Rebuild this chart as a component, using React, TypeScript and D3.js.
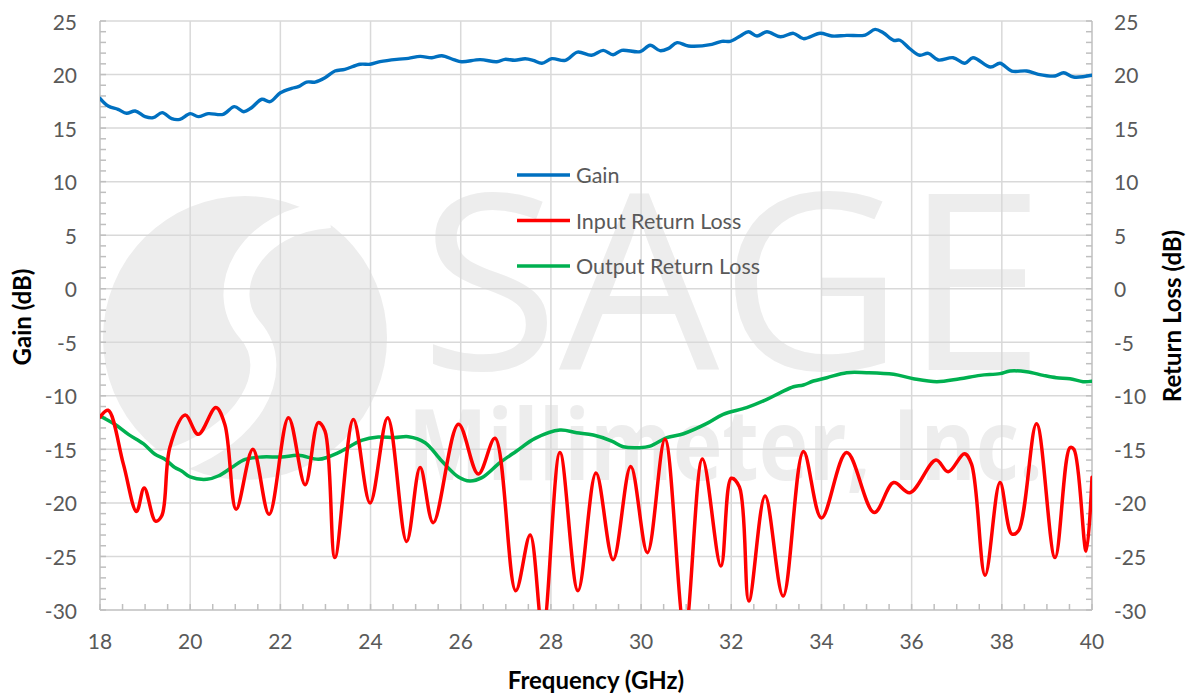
import React from "react";
import * as d3 from "d3";

const freqTicks = [18, 20, 22, 24, 26, 28, 30, 32, 34, 36, 38, 40];
const dbTicks = [25, 20, 15, 10, 5, 0, -5, -10, -15, -20, -25, -30];

const gainF = [18.0, 18.18, 18.4, 18.59, 18.78, 19.0, 19.18, 19.38, 19.59, 19.77, 20.0, 20.18, 20.4, 20.73, 20.98, 21.19, 21.36, 21.59, 21.77, 22.0, 22.25, 22.4, 22.58, 22.77, 22.99, 23.21, 23.43, 23.77, 23.99, 24.21, 24.58, 24.84, 25.1, 25.36, 25.58, 25.84, 26.02, 26.43, 26.8, 26.98, 27.2, 27.43, 27.61, 27.8, 28.02, 28.32, 28.59, 28.9, 29.16, 29.38, 29.57, 29.98, 30.2, 30.42, 30.6, 30.8, 31.05, 31.57, 31.79, 31.97, 32.2, 32.38, 32.57, 32.79, 33.09, 33.38, 33.6, 33.97, 34.23, 34.56, 34.97, 35.19, 35.37, 35.6, 35.74, 35.96, 36.18, 36.37, 36.59, 36.92, 37.18, 37.36, 37.75, 37.96, 38.22, 38.55, 38.81, 39.18, 39.37, 39.59, 40.0];
const gainV = [17.78, 17.06, 16.75, 16.38, 16.6, 16.07, 15.97, 16.44, 15.88, 15.82, 16.35, 16.07, 16.35, 16.28, 17.0, 16.53, 16.9, 17.69, 17.47, 18.3, 18.71, 18.87, 19.3, 19.3, 19.7, 20.33, 20.49, 20.96, 20.96, 21.2, 21.42, 21.51, 21.7, 21.57, 21.76, 21.4, 21.2, 21.39, 21.2, 21.42, 21.33, 21.48, 21.33, 21.05, 21.48, 21.33, 22.1, 21.8, 22.26, 21.85, 22.26, 22.14, 22.73, 22.23, 22.42, 22.98, 22.67, 22.82, 23.1, 23.1, 23.6, 24.0, 23.6, 24.0, 23.53, 23.85, 23.35, 23.85, 23.6, 23.66, 23.69, 24.22, 23.9, 23.2, 23.2, 22.41, 21.8, 21.98, 21.36, 21.57, 21.05, 21.57, 20.7, 21.05, 20.33, 20.33, 20.02, 19.86, 20.17, 19.77, 19.93];

const inputF = [18.0, 18.18, 18.52, 18.81, 18.98, 19.23, 19.37, 19.55, 19.89, 20.18, 20.57, 20.77, 21.02, 21.39, 21.75, 22.18, 22.55, 22.84, 22.99, 23.21, 23.62, 23.99, 24.38, 24.8, 25.1, 25.39, 25.95, 26.39, 26.76, 27.22, 27.54, 27.82, 28.2, 28.6, 29.0, 29.38, 29.77, 30.14, 30.53, 30.97, 31.36, 31.77, 32.0, 32.18, 32.39, 32.75, 33.15, 33.6, 34.0, 34.56, 35.17, 35.6, 35.96, 36.54, 36.81, 37.17, 37.33, 37.63, 37.96, 38.22, 38.37, 38.77, 39.18, 39.51, 39.6, 39.87, 40.0];
const inputV = [-12.0, -11.35, -16.4, -20.8, -18.6, -21.7, -21.2, -14.8, -11.8, -13.6, -11.1, -12.7, -20.6, -15.0, -21.07, -12.04, -18.3, -12.5, -13.3, -25.1, -12.2, -20.0, -12.04, -23.6, -16.7, -21.85, -12.66, -17.3, -13.97, -28.2, -23.0, -32.0, -15.3, -28.2, -17.2, -25.3, -16.6, -24.65, -14.06, -32.0, -15.9, -25.9, -17.7, -18.5, -29.16, -19.36, -28.7, -15.2, -21.4, -15.3, -20.9, -18.1, -19.05, -16.0, -17.1, -15.4, -16.4, -26.76, -18.1, -22.9, -22.6, -12.6, -25.1, -14.84, -15.0, -24.5, -17.6];

const outputF = [18.0, 18.33, 18.63, 18.96, 19.22, 19.44, 19.66, 19.81, 20.0, 20.37, 20.62, 20.92, 21.22, 21.59, 22.03, 22.4, 22.84, 23.06, 23.36, 23.8, 24.17, 24.54, 24.84, 25.21, 25.58, 25.95, 26.2, 26.47, 26.87, 27.24, 27.65, 28.2, 28.57, 28.94, 29.35, 29.6, 29.97, 30.2, 30.57, 30.94, 31.45, 31.82, 32.34, 32.79, 33.09, 33.38, 33.6, 33.82, 34.12, 34.56, 35.0, 35.6, 36.04, 36.56, 37.07, 37.52, 37.96, 38.18, 38.55, 38.92, 39.21, 39.51, 39.8, 40.0];
const outputV = [-11.88, -12.66, -13.6, -14.47, -15.46, -15.93, -16.7, -17.02, -17.58, -17.8, -17.49, -16.7, -15.93, -15.71, -15.71, -15.56, -15.93, -15.71, -15.15, -14.16, -13.85, -13.9, -13.82, -14.38, -16.09, -17.58, -17.95, -17.64, -16.24, -15.15, -13.97, -13.19, -13.44, -13.66, -14.22, -14.75, -14.84, -14.69, -13.91, -13.54, -12.6, -11.73, -11.1, -10.33, -9.7, -9.15, -8.99, -8.62, -8.31, -7.84, -7.84, -7.99, -8.4, -8.68, -8.4, -8.09, -7.93, -7.68, -7.75, -8.09, -8.31, -8.4, -8.68, -8.64];

const seriesNames = ["Gain", "Input Return Loss", "Output Return Loss"];
const seriesColors = ["#0070c0", "#ff0000", "#00b050"];

const W = 1187;
const H = 694;
const L = 100;
const R = 1092;
const T = 21;
const B = 610;
const FONT = "Lato, 'Open Sans', sans-serif";

export default function App() {
  const x = d3.scaleLinear().domain([18, 40]).range([L, R]);
  const y = d3.scaleLinear().domain([-30, 25]).range([B, T]);
  const line = d3
    .line<[number, number]>()
    .x((d) => x(d[0]))
    .y((d) => y(d[1]))
    .curve(d3.curveCatmullRom.alpha(0.5));

  const gain = gainF.map((f, i) => [f, gainV[i]] as [number, number]);
  const inp = inputF.map((f, i) => [f, inputV[i]] as [number, number]);
  const out = outputF.map((f, i) => [f, outputV[i]] as [number, number]);

  const minorY = d3.range(-30, 25.01, 1);
  const minorX = d3.range(18, 40.01, 0.5);
  const wm = "#ededed";

  return (
    <svg
      width={W}
      height={H}
      style={{ position: "absolute", left: 0, top: 0, background: "#fff" }}
      fontFamily={FONT}
    >
      <defs>
        <clipPath id="plot">
          <rect x={L} y={T} width={R - L} height={B - T} />
        </clipPath>
      </defs>
      {/* watermark */}
      <g clipPath="url(#plot)">
        <circle cx={245} cy={338} r={142} fill={wm} />
        <path
          d="M 330 215 C 250 220, 215 290, 250 330 C 285 370, 250 440, 160 465"
          fill="none"
          stroke="#fff"
          strokeWidth={26}
        />
        <text x={420} y={370} fontSize={245} fill={wm} fontFamily="'Open Sans', sans-serif" fontWeight={400} textLength={625} lengthAdjust="spacingAndGlyphs">
          SAGE
        </text>
        <text x={408} y={480} fontSize={98} fill={wm} fontFamily="'Open Sans', sans-serif" fontWeight={700} textLength={635} lengthAdjust="spacingAndGlyphs">
          Millimeter, Inc.
        </text>
      </g>
      {/* gridlines */}
      <g stroke="#d9d9d9" strokeWidth={1.5}>
        {dbTicks.filter((t) => t !== -30).map((t) => (
          <line key={"gy" + t} x1={L} x2={R} y1={y(t)} y2={y(t)} />
        ))}
        {freqTicks.filter((t) => t !== 18 && t !== 40).map((t) => (
          <line key={"gx" + t} x1={x(t)} x2={x(t)} y1={T} y2={B} />
        ))}
      </g>
      {/* axes */}
      <g stroke="#bfbfbf" strokeWidth={1.5}>
        <line x1={L} x2={L} y1={T} y2={B} />
        <line x1={R} x2={R} y1={T} y2={B} />
        <line x1={L} x2={R} y1={B} y2={B} />
        {minorY.map((t) => (
          <line key={"ly" + t} x1={L} x2={L + 6} y1={y(t)} y2={y(t)} />
        ))}
        {minorY.map((t) => (
          <line key={"ry" + t} x1={R - 6} x2={R} y1={y(t)} y2={y(t)} />
        ))}
        {minorX.map((t) => (
          <line key={"bx" + t} x1={x(t)} x2={x(t)} y1={B - 6} y2={B} />
        ))}
      </g>
      {/* series */}
      <g clipPath="url(#plot)" fill="none" strokeLinejoin="round" strokeLinecap="round">
        <path d={line(out) || ""} stroke={seriesColors[2]} strokeWidth={3.5} />
        <path d={line(inp) || ""} stroke={seriesColors[1]} strokeWidth={3.5} />
        <path d={line(gain) || ""} stroke={seriesColors[0]} strokeWidth={3.4} />
      </g>
      {/* tick labels */}
      <g fill="#595959" fontSize={21}>
        {dbTicks.map((t) => (
          <text key={"tl" + t} x={77} y={y(t)} textAnchor="end" dominantBaseline="central">
            {t}
          </text>
        ))}
        {dbTicks.map((t) => (
          <text key={"tr" + t} x={1114} y={y(t)} textAnchor="start" dominantBaseline="central">
            {t}
          </text>
        ))}
        {freqTicks.map((t) => (
          <text key={"tx" + t} x={x(t)} y={649} textAnchor="middle">
            {t}
          </text>
        ))}
      </g>
      {/* axis titles */}
      <g fontWeight={700} fill="#000" fontSize={24}>
        <text x={596} y={689} textAnchor="middle">Frequency (GHz)</text>
        <text transform={`translate(31, 317) rotate(-90)`} textAnchor="middle">Gain (dB)</text>
        <text transform={`translate(1181, 316) rotate(-90)`} textAnchor="middle">Return Loss (dB)</text>
      </g>
      {/* legend */}
      <g>
        {seriesNames.map((n, i) => (
          <g key={n} transform={`translate(517, ${175 + i * 45.5})`}>
            <line x1={0} x2={53} y1={0} y2={0} stroke={seriesColors[i]} strokeWidth={3.5} />
            <text x={59} y={0} dominantBaseline="central" fill="#595959" fontSize={21.5}>
              {n}
            </text>
          </g>
        ))}
      </g>
    </svg>
  );
}
